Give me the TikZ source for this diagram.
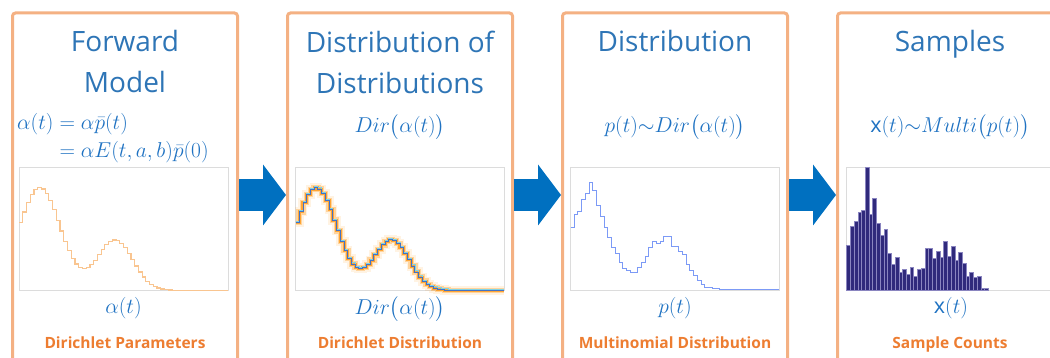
\RequirePackage{fix-cm}
\documentclass[tikz,border=0pt]{standalone}
\usepackage{amsmath}
\usepackage[no-math]{fontspec}
\setmainfont{Open Sans}
\usetikzlibrary{arrows.meta,positioning}
\definecolor{BoxOrange}{HTML}{F4B183}
\definecolor{TitleBlue}{HTML}{2E75B6}
\definecolor{MathBlue}{HTML}{1F72C2}
\definecolor{ArrowBlue}{HTML}{0070C0}
\definecolor{LabelOrange}{HTML}{ED7D31}
\definecolor{FrameGray}{HTML}{DCDCDC}
\definecolor{AlphaOrange}{HTML}{F9C590}
\definecolor{DirOrange}{HTML}{FF9A1A}
\definecolor{DirBlue}{HTML}{4472C4}
\definecolor{DirCyan}{HTML}{7FD3E6}
\definecolor{PBlue}{HTML}{7C9AF6}
\definecolor{BarNavy}{HTML}{302A7C}
\definecolor{BarEdge}{HTML}{8A85C0}
\newcommand{\binw}{3.732}
\newcommand{\plotht}{123}

\begin{document}
\begin{tikzpicture}[
      x=1pt,y=1pt,
      node distance=47pt,
      panel/.style={draw=BoxOrange,line width=3pt,rounded corners=3pt,
        minimum width=225pt,minimum height=364pt},
      heading/.style={text=TitleBlue,font=\fontsize{28}{41}\selectfont,
        align=center,inner sep=0pt},
      formula/.style={text=MathBlue,font=\fontsize{21.5}{20.5}\selectfont,inner sep=0pt},
      caption/.style={text=LabelOrange,font=\fontsize{15.5}{18}\selectfont\bfseries,
        inner sep=0pt,anchor=base},
      plotframe/.style={draw=FrameGray,line width=0.8pt,minimum width=209pt,
        minimum height=123pt,inner sep=0pt,outer sep=0pt},
      flow/.style={ArrowBlue,line width=32pt,
        -{Triangle[length=23pt,width=61pt,line width=0pt]}},
      declare function={dens(\u)=0.835*exp(-min((\u-0.1)^2/0.02,9))
        +0.41*exp(-min((\u-0.46)^2/0.01445,9));}
    ]
      \useasboundingbox (0,0) rectangle (1050,358);
      \clip (0,0) rectangle (1050,358);

      % the four panels
      \node[panel] (b1) at (125,163) {};
      \node[panel,right=of b1] (b2) {};
      \node[panel,right=of b2] (b3) {};
      \node[panel,right=of b3] (b4) {};

      \draw[flow] (b1)--(b2);
      \draw[flow] (b2)--(b3);
      \draw[flow] (b3)--(b4);

      \node[heading,below=19pt of b1.north] (t1) {Forward\\Model};
      \node[heading,below=19pt of b2.north] (t2) {Distribution of\\Distributions};
      \node[heading,below=19pt of b3.north] (t3) {Distribution};
      \node[heading,below=19pt of b4.north] (t4) {Samples};

      \node[formula,anchor=west] (eq1) at ([xshift=6pt,yshift=-127pt]b1.north west)
        {$\begin{aligned}\alpha(t)&=\alpha\bar{p}(t)\\[1.5pt]&=\alpha E(t,a,b)\bar{p}(0)\end{aligned}$};
      \node[formula] (eq2) at ([yshift=-116pt]b2.north) {$Dir\bigl(\alpha(t)\bigr)$};
      \node[formula] (eq3) at ([yshift=-116pt]b3.north) {$p(t){\sim}Dir\bigl(\alpha(t)\bigr)$};
      \node[formula] (eq4) at ([yshift=-116pt]b4.north) {$\text{x}(t){\sim}Multi\bigl(p(t)\bigr)$};

      % plot areas
      \node[plotframe] (fr1) at ([xshift=-1.5pt,yshift=-217.5pt]b1.north) {};
      \node[plotframe] (fr2) at ([yshift=-217.5pt]b2.north) {};
      \node[plotframe] (fr3) at ([yshift=-217.5pt]b3.north) {};
      \node[plotframe] (fr4) at ([xshift=1pt,yshift=-217.5pt]b4.north) {};

      \begin{scope}[shift={(fr1.south west)}]
        \draw[AlphaOrange,line width=1.2pt] (0,{\plotht*dens(0.5/56)})
          \foreach \k in {0,...,55}{ -- ({\k*\binw},{\plotht*dens((\k+0.5)/56)})
            -- ({(\k+1)*\binw},{\plotht*dens((\k+0.5)/56)}) };
      \end{scope}

      \begin{scope}[shift={(fr2.south west)}]
        \draw[DirOrange,line width=9pt,opacity=.12] (0,{\plotht*dens(0.5/56)})
          \foreach \k in {0,...,55}{ -- ({\k*\binw},{\plotht*dens((\k+0.5)/56)})
            -- ({(\k+1)*\binw},{\plotht*dens((\k+0.5)/56)}) };
        \draw[DirOrange,line width=5.5pt,opacity=.35] (0,{\plotht*dens(0.5/56)})
          \foreach \k in {0,...,55}{ -- ({\k*\binw},{\plotht*dens((\k+0.5)/56)})
            -- ({(\k+1)*\binw},{\plotht*dens((\k+0.5)/56)}) };
        \draw[DirOrange,line width=3pt,opacity=.8] (0,{\plotht*dens(0.5/56)})
          \foreach \k in {0,...,55}{ -- ({\k*\binw},{\plotht*dens((\k+0.5)/56)})
            -- ({(\k+1)*\binw},{\plotht*dens((\k+0.5)/56)}) };
        \draw[DirCyan,line width=0.8pt] (0,{\plotht*dens(0.5/56)+1.2})
          \foreach \k in {0,...,55}{ -- ({\k*\binw},{\plotht*dens((\k+0.5)/56)+1.2})
            -- ({(\k+1)*\binw},{\plotht*dens((\k+0.5)/56)+1.2}) };
        \draw[DirBlue,line width=0.9pt] (0,{\plotht*dens(0.5/56)})
          \foreach \k in {0,...,55}{ -- ({\k*\binw},{\plotht*dens((\k+0.5)/56)})
            -- ({(\k+1)*\binw},{\plotht*dens((\k+0.5)/56)}) };
      \end{scope}

      \begin{scope}[shift={(fr3.south west)}]
        \draw[PBlue,line width=1pt] (0,{0.51*\plotht})
          \foreach \v [count=\k from 0] in {0.51,0.62,0.645,0.74,0.79,0.88,0.81,0.69,0.60,0.51,
            0.43,0.35,0.30,0.23,0.18,0.16,0.15,0.15,0.19,0.23,
            0.28,0.35,0.40,0.38,0.40,0.44,0.44,0.36,0.36,0.32,
            0.29,0.215,0.16,0.12,0.08,0.045,0.027,0.027,0.013,0.013,
            0.005,0.005,0.005,0.005,0.005,0.005,0.005,0.005,
            0.005,0.005,0.005,0.005,0.005,0.005,0.005,0.005}{
            -- ({\k*\binw},{\v*\plotht}) -- ({(\k+1)*\binw},{\v*\plotht}) };
      \end{scope}

      \begin{scope}[shift={(fr4.south west)}]
        \foreach \v [count=\k from 0] in {0.37,0.52,0.56,0.64,0.65,1.00,0.62,0.75,0.55,0.45,
            0.50,0.30,0.21,0.27,0.15,0.17,0.13,0.19,0.12,0.17,
            0.18,0.34,0.34,0.26,0.32,0.27,0.40,0.28,0.36,0.25,
            0.31,0.22,0.12,0.15,0.11,0.12,0.02,0.02}
          \filldraw[fill=BarNavy,draw=BarEdge,line width=0.4pt]
            ({\k*\binw},0) rectangle ++(\binw,{\v*\plotht});
      \end{scope}

      \node[formula] (x1) at ([yshift=-17.5pt]fr1.south) {$\alpha(t)$};
      \node[formula] (x2) at ([yshift=-18.5pt]fr2.south) {$Dir\bigl(\alpha(t)\bigr)$};
      \node[formula] (x3) at ([yshift=-17.5pt]fr3.south) {$p(t)$};
      \node[formula] (x4) at ([yshift=-17.5pt]fr4.south) {$\text{x}(t)$};

      \node[caption] (c1) at ([yshift=-154pt]b1.center) {Dirichlet Parameters};
      \node[caption] (c2) at ([yshift=-154pt]b2.center) {Dirichlet Distribution};
      \node[caption] (c3) at ([yshift=-154pt]b3.center) {Multinomial Distribution};
      \node[caption] (c4) at ([yshift=-154pt]b4.center) {Sample Counts};
    \end{tikzpicture}
\end{document}
